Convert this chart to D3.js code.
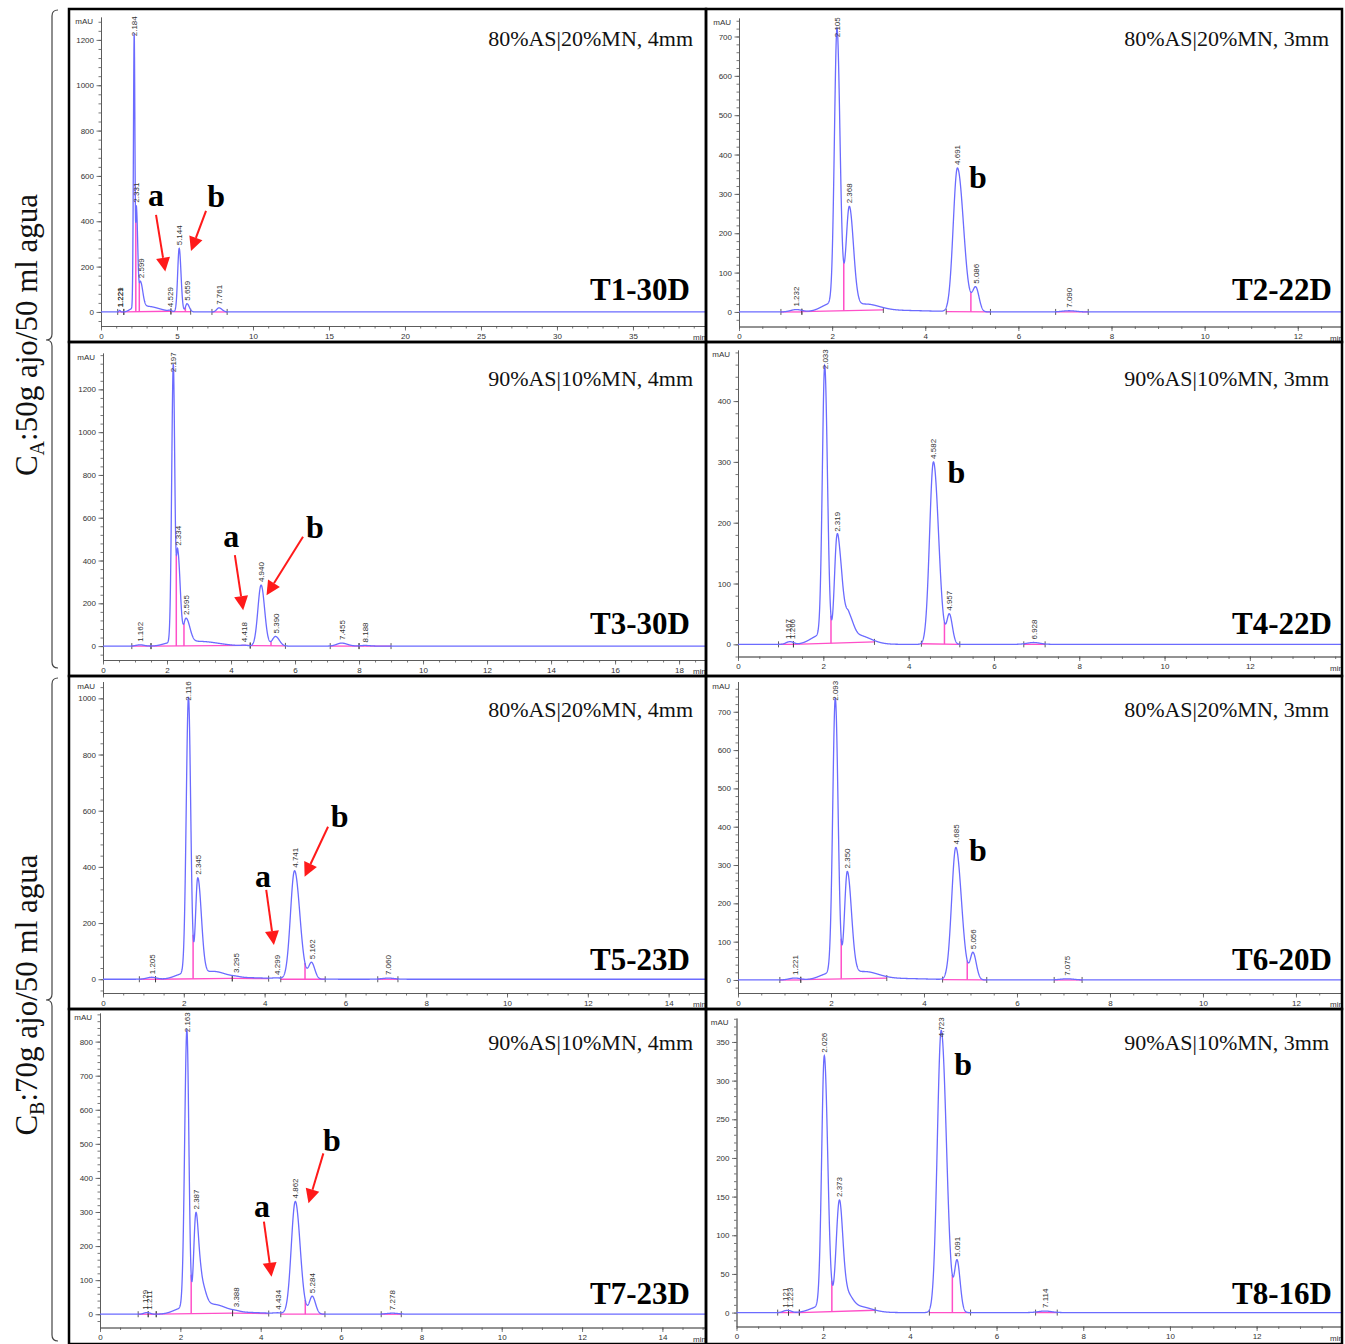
<!DOCTYPE html>
<html>
<head>
<meta charset="utf-8">
<script src="https://cdn.jsdelivr.net/npm/d3@7"></script>
<style>
  body { margin: 0; background: #fff; }
  svg { display: block; }
  .tick text { font-family: "Liberation Sans", Arial, sans-serif; font-size: 8px; fill: #333; }
  .tick line, .domain { stroke: #555; stroke-width: 0.8; }
</style>
</head>
<body>
<svg id="fig" width="1345" height="1344"></svg>
<script>
// ---------------- data ----------------
const panelNames = ["T1-30D", "T2-22D", "T3-30D", "T4-22D", "T5-23D", "T6-20D", "T7-23D", "T8-16D"];
const conditions = ["80%AS|20%MN, 4mm", "80%AS|20%MN, 3mm", "90%AS|10%MN, 4mm", "90%AS|10%MN, 3mm",
                    "80%AS|20%MN, 4mm", "80%AS|20%MN, 3mm", "90%AS|10%MN, 4mm", "90%AS|10%MN, 3mm"];
const groupLabels = [["C", "A", ":50g ajo/50 ml agua"], ["C", "B", ":70g ajo/50 ml agua"]];

// time axis end (min) and signal axis limits (mAU)
const timeMax = [39.74, 12.95, 18.81, 14.16, 14.9, 12.99, 15.06, 13.97];
const mauRange = [[-62, 1301], [-37, 747], [-65, 1370], [-20, 484], [-49, 1060], [-34, 779], [-39, 884], [-18, 381]];
const mauStep = [200, 100, 200, 100, 200, 100, 100, 50];
const timeStep = [5, 2, 2, 2, 2, 2, 2, 2];

// peaks: [retention time (min), height (mAU), sigma left, sigma right, labelled]
const peaksT1 = [
  [1.221, 4, 0.05, 0.05, 1], [1.229, 3, 0.05, 0.05, 1], [2.08, 15, 0.22, 0.06, 0],
  [2.184, 1225, 0.05, 0.05, 1], [2.331, 450, 0.04, 0.09, 1], [2.599, 120, 0.08, 0.15, 1],
  [3.00, 25, 0.30, 0.80, 0], [4.529, 4, 0.10, 0.10, 1], [5.144, 280, 0.10, 0.12, 1],
  [5.659, 36, 0.10, 0.15, 1], [7.761, 18, 0.15, 0.20, 1]
];
const peaksT2 = [
  [1.232, 6, 0.12, 0.12, 1], [2.00, 22, 0.22, 0.06, 0], [2.105, 715, 0.055, 0.065, 1],
  [2.368, 260, 0.07, 0.09, 1], [2.70, 18, 0.25, 0.30, 0], [3.30, 4, 0.50, 0.80, 0],
  [4.691, 365, 0.09, 0.13, 1], [5.086, 60, 0.07, 0.07, 1], [7.090, 3, 0.15, 0.15, 1]
];
const peaksT3 = [
  [1.162, 6, 0.12, 0.12, 1], [2.09, 15, 0.22, 0.06, 0], [2.197, 1310, 0.05, 0.045, 1],
  [2.334, 440, 0.045, 0.08, 1], [2.595, 120, 0.07, 0.12, 1], [3.00, 22, 0.30, 0.60, 0],
  [4.418, 3, 0.10, 0.10, 1], [4.940, 285, 0.10, 0.11, 1], [5.390, 45, 0.10, 0.12, 1],
  [7.455, 14, 0.15, 0.18, 1], [8.188, 3, 0.15, 0.15, 1]
];
const peaksT4 = [
  [1.167, 3, 0.06, 0.06, 1], [1.266, 3, 0.06, 0.06, 1], [1.93, 15, 0.22, 0.06, 0],
  [2.033, 455, 0.055, 0.065, 1], [2.319, 170, 0.06, 0.07, 1], [2.44, 70, 0.06, 0.08, 0],
  [2.60, 35, 0.06, 0.10, 0], [2.80, 15, 0.20, 0.30, 0], [4.582, 300, 0.09, 0.12, 1],
  [4.957, 48, 0.06, 0.07, 1], [6.928, 3, 0.15, 0.15, 1]
];
const peaksT5 = [
  [1.205, 7, 0.12, 0.12, 1], [2.01, 20, 0.22, 0.06, 0], [2.116, 1000, 0.055, 0.055, 1],
  [2.345, 355, 0.055, 0.09, 1], [2.70, 25, 0.20, 0.30, 0], [3.30, 6, 0.50, 0.80, 0],
  [3.295, 2, 0.10, 0.10, 1], [4.299, 2, 0.10, 0.10, 1], [4.741, 385, 0.10, 0.13, 1],
  [5.162, 58, 0.07, 0.08, 1], [7.060, 4, 0.15, 0.15, 1]
];
const peaksT6 = [
  [1.221, 5, 0.12, 0.12, 1], [1.99, 18, 0.22, 0.06, 0], [2.093, 730, 0.055, 0.06, 1],
  [2.350, 275, 0.06, 0.09, 1], [2.70, 20, 0.25, 0.30, 0], [3.30, 4, 0.50, 0.80, 0],
  [4.685, 345, 0.09, 0.12, 1], [5.056, 69, 0.06, 0.07, 1], [7.075, 3, 0.15, 0.15, 1]
];
const peaksT7 = [
  [1.129, 3, 0.06, 0.06, 1], [1.211, 3, 0.06, 0.06, 1], [2.06, 18, 0.22, 0.06, 0],
  [2.163, 830, 0.055, 0.05, 1], [2.387, 290, 0.055, 0.07, 1], [2.53, 75, 0.06, 0.10, 0],
  [2.80, 25, 0.20, 0.30, 0], [3.30, 6, 0.50, 0.80, 0], [3.388, 2, 0.10, 0.10, 1],
  [4.434, 2, 0.10, 0.10, 1], [4.862, 330, 0.10, 0.12, 1], [5.284, 52, 0.07, 0.08, 1],
  [7.278, 3, 0.15, 0.15, 1]
];
const peaksT8 = [
  [1.121, 2, 0.06, 0.06, 1], [1.223, 2, 0.06, 0.06, 1], [1.93, 8, 0.22, 0.06, 0],
  [2.026, 330, 0.06, 0.08, 1], [2.373, 143, 0.075, 0.08, 1], [2.55, 20, 0.08, 0.12, 0],
  [2.80, 8, 0.20, 0.30, 0], [4.723, 365, 0.09, 0.12, 1], [5.091, 65, 0.06, 0.07, 1],
  [7.114, 2, 0.15, 0.15, 1]
];

// integration baselines: [t start, mAU start, t end, mAU end]
const baseT1 = [[1.1, 0, 1.5, 0], [1.5, 0, 4.6, 3], [4.6, 1, 5.9, 1], [7.3, 0, 8.3, 0]];
const baseT2 = [[0.9, 0, 1.35, 0], [1.35, 1, 3.1, 5], [4.45, 1, 5.4, 0], [6.8, 0, 7.5, 0]];
const baseT3 = [[0.9, 0, 1.5, 0], [1.5, 0, 4.6, 3], [4.6, 2, 5.7, 1], [7.1, 0, 8.0, 0], [8.0, 0, 9.0, 0]];
const baseT4 = [[0.95, 0, 1.3, 0], [1.3, 0, 3.2, 4], [4.3, 1, 5.2, 0], [6.7, 0, 7.2, 0]];
const baseT5 = [[0.9, 0, 1.3, 0], [1.3, 0, 3.2, 3], [3.2, 3, 4.1, 2], [4.4, 0, 5.5, 0], [6.8, 0, 7.3, 0]];
const baseT6 = [[0.9, 0, 1.35, 0], [1.35, 1, 3.2, 5], [4.4, 1, 5.35, 0], [6.8, 0, 7.4, 0]];
const baseT7 = [[0.95, 0, 1.2, 0], [1.2, 0, 1.4, 0], [1.4, 0, 3.3, 3], [3.3, 3, 4.2, 2], [4.5, 0, 5.6, 0], [7.0, 0, 7.5, 0]];
const baseT8 = [[0.95, 0, 1.2, 0], [1.2, 0, 1.45, 0], [1.45, 0, 3.2, 3], [4.45, 0, 5.4, 0], [6.9, 0, 7.4, 0]];

// peak separation drop lines (min)
const cutsT1 = [2.29, 2.52, 5.55];
const cutsT2 = [2.25, 4.98];
const cutsT3 = [2.29, 2.53, 5.25];
const cutsT4 = [2.18, 4.84];
const cutsT5 = [2.23, 5.00];
const cutsT6 = [2.22, 4.93];
const cutsT7 = [2.27, 5.11];
const cutsT8 = [2.20, 4.98];

// letter callouts: [letter, label (t, mAU), arrow start, arrow tip]
const notesT1 = [["a", [3.62, 516], [3.62, 428], [4.23, 178]], ["b", [7.57, 509], [6.91, 446], [5.92, 269]]];
const notesT2 = [["b", [5.13, 341]]];
const notesT3 = [["a", [4.01, 511], [4.12, 425], [4.38, 168]], ["b", [6.62, 556], [6.25, 511], [5.11, 238]]];
const notesT4 = [["b", [5.12, 282]]];
const notesT5 = [["a", [3.96, 365], [4.04, 318], [4.23, 122]], ["b", [5.86, 579], [5.57, 543], [4.99, 365]]];
const notesT6 = [["b", [5.16, 339]]];
const notesT7 = [["a", [4.03, 316], [4.08, 272], [4.27, 110]], ["b", [5.77, 511], [5.56, 472], [5.19, 326]]];
const notesT8 = [["b", [5.23, 321]]];

const peakSets = [peaksT1, peaksT2, peaksT3, peaksT4, peaksT5, peaksT6, peaksT7, peaksT8];
const baseSets = [baseT1, baseT2, baseT3, baseT4, baseT5, baseT6, baseT7, baseT8];
const cutSets = [cutsT1, cutsT2, cutsT3, cutsT4, cutsT5, cutsT6, cutsT7, cutsT8];
const noteSets = [notesT1, notesT2, notesT3, notesT4, notesT5, notesT6, notesT7, notesT8];

// ---------------- layout ----------------
const colX = [[69, 706], [706, 1342]];
const rowY = [[9, 342], [342, 676], [676, 1009], [1009, 1344]];
// plot boxes [left, top, right, bottom]
const plotBox = [
  [101, 17, 705, 326], [739, 18, 1342, 326.5],
  [103, 353, 705, 660], [738, 350, 1342, 656.5],
  [103, 681.5, 705, 993], [738, 681.5, 1342, 993],
  [100, 1013, 705, 1327.5], [736.5, 1018, 1342, 1326.5]
];
const condBaseline = [46, 386, 717, 1050];
const nameBaseline = [300, 634, 970, 1304];

const SERIF = '"Liberation Serif", "Times New Roman", Times, serif';
const SANS = '"Liberation Sans", Arial, sans-serif';
const TRACE = "#6b6bff";
const PINK = "#ff4fc8";

const svg = d3.select("#fig");
const defs = svg.append("defs");

function signal(peaks, t) {
  let s = 0;
  for (const [rt, h, sl, sr] of peaks) {
    const z = (t - rt) / (t < rt ? sl : sr);
    if (Math.abs(z) < 9) s += h * Math.exp(-0.5 * z * z);
  }
  return s;
}
function baseAt(base, t) {
  for (const [t1, v1, t2, v2] of base) {
    if (t >= t1 && t <= t2) return v1 + (v2 - v1) * (t - t1) / (t2 - t1);
  }
  return 0;
}

panelNames.forEach((name, i) => {
  const col = i % 2, row = Math.floor(i / 2);
  const [fx0, fx1] = colX[col];
  const [fy0, fy1] = rowY[row];
  const [L, T, R, B] = plotBox[i];
  const peaks = peakSets[i];

  defs.append("clipPath").attr("id", "frame" + i)
    .append("rect").attr("x", fx0).attr("y", fy0).attr("width", fx1 - fx0).attr("height", fy1 - fy0);

  const g = svg.append("g").attr("clip-path", `url(#frame${i})`);

  const x = d3.scaleLinear().domain([0, timeMax[i]]).range([L, R]);
  const y = d3.scaleLinear().domain(mauRange[i]).range([B, T]);

  // x axis: minor then major ticks
  const tStep = timeStep[i];
  const minorDiv = tStep === 5 ? 5 : 4;
  const xMinor = d3.range(0, timeMax[i], tStep / minorDiv);
  const xMajor = d3.range(0, timeMax[i], tStep).filter(t => x(t) <= R - 25);
  g.append("g").attr("transform", `translate(0,${B})`)
    .call(d3.axisBottom(x).tickValues(xMinor).tickSize(2.5).tickSizeOuter(0).tickFormat(""));
  g.append("g").attr("transform", `translate(0,${B})`)
    .call(d3.axisBottom(x).tickValues(xMajor).tickSize(4.5).tickSizeOuter(0).tickPadding(2.5)
      .tickFormat(d3.format("d")));
  g.append("text").attr("x", R - 12).attr("y", B + 14)
    .attr("font-family", SANS).attr("font-size", 8).attr("fill", "#333").text("min");

  // y axis
  const [ymin, ymax] = mauRange[i];
  const yStep = mauStep[i];
  const yMinor = d3.range(Math.ceil(ymin / (yStep / 5)) * (yStep / 5), ymax, yStep / 5);
  const yMajor = d3.range(0, ymax - yStep * 0.15, yStep);
  g.append("g").attr("transform", `translate(${L},0)`)
    .call(d3.axisLeft(y).tickValues(yMinor).tickSize(2.5).tickSizeOuter(0).tickFormat(""));
  g.append("g").attr("transform", `translate(${L},0)`)
    .call(d3.axisLeft(y).tickValues(yMajor).tickSize(4.5).tickSizeOuter(0).tickPadding(2.5)
      .tickFormat(d3.format("d")));
  g.append("text").attr("x", L - 8).attr("y", T + 7).attr("text-anchor", "end")
    .attr("font-family", SANS).attr("font-size", 8).attr("fill", "#333").text("mAU");

  // integration baselines and markers
  baseSets[i].forEach(([t1, v1, t2, v2]) => {
    g.append("line").attr("x1", x(t1)).attr("y1", y(v1)).attr("x2", x(t2)).attr("y2", y(v2))
      .attr("stroke", PINK).attr("stroke-width", 1.3);
    [[t1, v1], [t2, v2]].forEach(([tt, vv]) => {
      g.append("line").attr("x1", x(tt)).attr("x2", x(tt))
        .attr("y1", y(vv) - 3).attr("y2", y(vv) + 3).attr("stroke", "#333").attr("stroke-width", 0.8);
    });
  });
  cutSets[i].forEach(t => {
    g.append("line").attr("x1", x(t)).attr("x2", x(t))
      .attr("y1", y(baseAt(baseSets[i], t))).attr("y2", y(signal(peaks, t)))
      .attr("stroke", PINK).attr("stroke-width", 1.5);
  });

  // chromatogram trace
  const n = 4000;
  const pts = d3.range(n + 1).map(k => {
    const t = timeMax[i] * k / n;
    return [t, signal(peaks, t)];
  });
  g.append("path").datum(pts)
    .attr("d", d3.line().x(d => x(d[0])).y(d => y(d[1])))
    .attr("fill", "none").attr("stroke", TRACE).attr("stroke-width", 1.3);

  // retention time labels
  peaks.filter(p => p[4]).forEach(p => {
    const rt = p[0];
    const label = rt.toFixed(3);
    const len = label.length * 4.45;
    let bottom = y(signal(peaks, rt)) - 3;
    if (bottom - len < T - 3) bottom = T - 3 + len;
    g.append("text")
      .attr("transform", `translate(${x(rt) + 3},${bottom}) rotate(-90)`)
      .attr("font-family", SANS).attr("font-size", 8).attr("fill", "#333").text(label);
  });

  // letter callouts with red arrows
  noteSets[i].forEach(([letter, at, from, to]) => {
    g.append("text").attr("x", x(at[0])).attr("y", y(at[1])).attr("dy", "0.33em")
      .attr("text-anchor", "middle").attr("font-family", SERIF).attr("font-weight", "bold")
      .attr("font-size", 32).attr("fill", "#000").text(letter);
    if (from) {
      const x1 = x(from[0]), y1 = y(from[1]), x2 = x(to[0]), y2 = y(to[1]);
      const dx = x2 - x1, dy = y2 - y1, d = Math.hypot(dx, dy);
      const ux = dx / d, uy = dy / d, head = 14, hw = 7;
      const bx = x2 - ux * head, by = y2 - uy * head;
      g.append("line").attr("x1", x1).attr("y1", y1).attr("x2", bx).attr("y2", by)
        .attr("stroke", "#ff1a1a").attr("stroke-width", 2);
      g.append("path")
        .attr("d", `M${x2},${y2}L${bx - uy * hw},${by + ux * hw}L${bx + uy * hw},${by - ux * hw}Z`)
        .attr("fill", "#ff1a1a");
    }
  });

  // panel texts
  g.append("text").attr("x", fx1 - 13).attr("y", condBaseline[row]).attr("text-anchor", "end")
    .attr("font-family", SERIF).attr("font-size", 22).attr("fill", "#111").text(conditions[i]);
  g.append("text").attr("x", fx1 - (col === 0 ? 16 : 10)).attr("y", nameBaseline[row]).attr("text-anchor", "end")
    .attr("font-family", SERIF).attr("font-weight", "bold").attr("font-size", 31).attr("fill", "#000").text(name);

  // panel frame
  svg.append("rect").attr("x", fx0).attr("y", fy0).attr("width", fx1 - fx0).attr("height", fy1 - fy0)
    .attr("fill", "none").attr("stroke", "#000").attr("stroke-width", 2.5);
});

// group braces and labels on the left
const braces = [[10, 340, 668], [678, 1000, 1341]];
braces.forEach(([y0, ym, y1], k) => {
  svg.append("path")
    .attr("d", `M58,${y0} Q52,${y0} 52,${y0 + 6} L52,${ym - 6} Q52,${ym} 46,${ym} Q52,${ym} 52,${ym + 6} L52,${y1 - 6} Q52,${y1} 58,${y1}`)
    .attr("fill", "none").attr("stroke", "#444").attr("stroke-width", 1.2);
  const [c, sub, rest] = groupLabels[k];
  const t = svg.append("text")
    .attr("transform", `translate(37,${ym - 5}) rotate(-90)`)
    .attr("text-anchor", "middle").attr("font-family", SERIF).attr("font-size", 31).attr("fill", "#111");
  t.append("tspan").text(c);
  t.append("tspan").attr("font-size", 20).attr("dy", 7).text(sub);
  t.append("tspan").attr("dy", -7).text(rest);
});
</script>
</body>
</html>
